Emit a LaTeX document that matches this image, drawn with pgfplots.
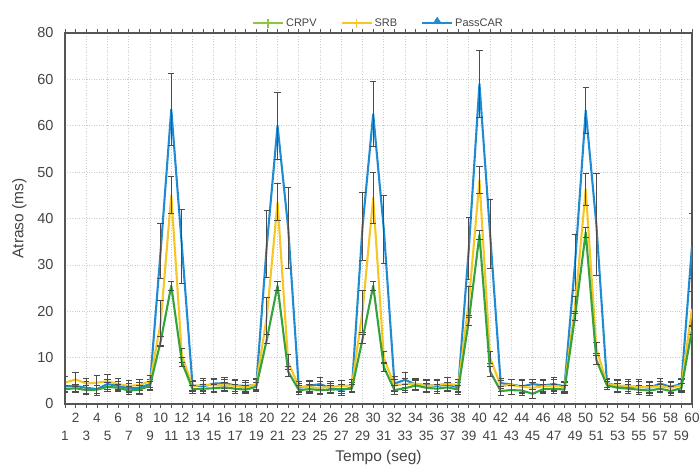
\documentclass[border=0pt]{standalone}
\usepackage{pgfplots}
\pgfplotsset{compat=1.18}
\usepackage{pgfplotstable}
\usepackage{fontspec}
\setmainfont{Liberation Sans}

\definecolor{cblue}{HTML}{1E8BD2}
\definecolor{cyellow}{HTML}{F6C623}
\definecolor{cgreen}{HTML}{35A33B}
\definecolor{clgreen}{HTML}{8CC63F}
\definecolor{ctext}{HTML}{444444}
\definecolor{cframe}{HTML}{555555}

% mean delay and error per second: PassCAR (b), SRB (s), CRPV (c)
\pgfplotstableread{
x  b    be   s    se   c    ce
1  3.8  1.0  4.6  1.3  3.2  0.8
2  3.9  1.2  5.3  1.5  3.4  0.9
3  3.5  1.3  4.4  1.2  3.0  1.0
4  3.2  1.4  4.6  1.5  3.1  0.9
5  4.3  1.1  4.9  1.4  3.7  1.0
6  3.9  1.0  4.3  1.2  3.5  0.8
7  3.4  1.0  3.9  1.1  2.9  0.9
8  3.5  1.2  4.1  1.2  3.1  1.0
9  4.3  1.1  4.9  1.3  3.9  0.9
10 33.0 6.0  17.5 4.8  13.5 1.0
11 63.5 7.7  45.0 4.0  25.5 1.0
12 34.0 8.0  10.5 1.5  9.0  1.0
13 4.0  1.0  3.8  1.1  3.2  0.9
14 3.8  1.2  4.2  1.3  3.3  1.0
15 4.4  1.1  4.0  1.2  3.4  0.9
16 4.5  1.2  4.1  1.1  3.6  1.0
17 4.0  1.3  3.9  1.2  3.3  1.0
18 3.9  1.1  3.6  1.1  3.1  0.9
19 4.1  1.2  4.3  1.2  3.7  1.0
20 34.5 7.2  19.0 4.0  14.0 1.0
21 60.0 7.2  43.5 4.0  25.5 1.0
22 38.0 8.7  9.0  1.6  7.0  1.0
23 3.5  1.0  3.8  1.1  3.0  0.9
24 3.9  1.2  3.6  1.2  3.2  1.0
25 4.3  1.4  3.5  1.3  3.0  1.0
26 3.4  1.1  3.7  1.2  3.1  0.9
27 3.0  1.2  3.9  1.1  3.2  1.0
28 3.5  1.1  4.0  1.2  3.3  0.9
29 38.3 7.3  20.0 4.5  14.0 1.0
30 62.5 7.0  44.5 5.5  25.5 1.0
31 37.7 7.3  10.0 1.3  8.0  1.0
32 4.4  1.5  4.0  1.2  3.0  1.0
33 5.2  1.6  4.3  1.3  3.4  0.9
34 4.2  1.2  4.4  1.2  4.0  1.0
35 4.1  1.3  3.9  1.2  3.5  1.0
36 3.9  1.1  4.1  1.3  3.3  1.0
37 4.2  1.5  4.4  1.4  3.6  1.0
38 3.6  1.1  4.0  1.3  3.1  1.0
39 33.5 6.7  22.0 3.4  18.0 1.0
40 69.0 7.3  48.3 3.0  36.5 1.0
41 36.7 7.5  10.0 1.3  7.0  1.0
42 4.5  1.1  3.9  1.2  2.8  0.9
43 4.2  1.2  4.1  1.2  3.0  1.0
44 3.8  1.5  3.7  1.3  2.9  1.0
45 4.3  1.1  3.5  1.2  2.2  0.9
46 4.0  1.3  3.8  1.3  3.2  1.0
47 4.3  1.4  4.0  1.2  3.3  1.0
48 3.8  1.1  3.6  1.1  3.1  0.9
49 30.5 6.0  21.3 1.8  19.0 1.0
50 63.3 4.9  46.3 3.4  37.0 1.0
51 38.7 11.0 12.0 1.2  9.5  1.0
52 4.5  1.0  4.3  1.1  4.0  0.9
53 3.9  1.2  4.0  1.2  3.5  1.0
54 3.6  1.3  3.9  1.3  3.3  1.0
55 3.8  1.4  3.6  1.2  3.1  1.0
56 3.5  1.2  3.7  1.2  2.9  1.0
57 4.4  1.1  3.8  1.1  3.3  0.9
58 3.7  1.2  3.5  1.2  2.8  1.0
59 4.3  1.3  4.0  1.3  3.4  1.0
60 34.0 7.0  20.5 3.7  16.0 1.0
}\delaydata

\pgfplotsset{
  errstyle/.style={
    error bars/.cd,
      y dir=both, y explicit,
      error bar style={line width=0.9pt, draw=black!70},
      error mark options={rotate=90, mark size=3.2pt, line width=0.9pt, draw=black!70},
  },
}
% odd seconds on the lower row, even seconds on the upper row
\newcommand{\lo}[1]{\strut\\#1}
\newcommand{\hi}[1]{#1\\\strut}

\begin{document}
\begin{tikzpicture}
\begin{axis}[
  scale only axis,
  width=627pt, height=371pt,
  xmin=1, xmax=60,
  ymin=0, ymax=80,
  xtick={1,...,60},
  xticklabels={
    \lo{1},\hi{2},\lo{3},\hi{4},\lo{5},\hi{6},\lo{7},\hi{8},\lo{9},\hi{10},
    \lo{11},\hi{12},\lo{13},\hi{14},\lo{15},\hi{16},\lo{17},\hi{18},\lo{19},\hi{20},
    \lo{21},\hi{22},\lo{23},\hi{24},\lo{25},\hi{26},\lo{27},\hi{28},\lo{29},\hi{30},
    \lo{31},\hi{32},\lo{33},\hi{34},\lo{35},\hi{36},\lo{37},\hi{38},\lo{39},\hi{40},
    \lo{41},\hi{42},\lo{43},\hi{44},\lo{45},\hi{46},\lo{47},\hi{48},\lo{49},\hi{50},
    \lo{51},\hi{52},\lo{53},\hi{54},\lo{55},\hi{56},\lo{57},\hi{58},\lo{59},\hi{60}},
  ytick={0,10,...,80},
  yticklabels={0,10,20,30,40,50,60,60,80},
  minor xtick={3,5,...,59},
  xminorgrids=true,
  ymajorgrids=true,
  xmajorgrids=false,
  grid style={dotted, line width=0.7pt, gray!40},
  minor grid style={dotted, line width=0.7pt, gray!40},
  minor tick length=0pt,
  tick align=outside,
  major tick length=4pt,
  ytick style={draw=none},
  xtick style={line width=0.7pt, draw=cframe},
  axis line style={line width=1.5pt, draw=cframe},
  /pgf/number format/assume math mode=true,
  xticklabel style={align=center, font=\fontsize{13.5}{16}\selectfont, text=ctext,
    inner sep=1pt, yshift=-4pt},
  yticklabel style={font=\fontsize{14.5}{16}\selectfont, text=ctext, xshift=-4pt},
  xlabel={Tempo (seg)},
  ylabel={Atraso (ms)},
  xlabel style={font=\fontsize{15.5}{17}\selectfont, text=ctext, yshift=-2pt},
  ylabel style={font=\fontsize{15.5}{17}\selectfont, text=ctext, yshift=4pt},
  legend style={draw=none, fill=none, at={(0.5,1.0)}, anchor=south, yshift=2pt,
    font=\fontsize{11}{12}\selectfont, text=ctext, inner sep=1pt,
    /tikz/every even column/.append style={column sep=22pt}},
  legend columns=3,
]
\addlegendimage{legend image code/.code={
    \draw[draw=clgreen, line width=2pt] (0pt,0pt) -- (30pt,0pt);
    \draw[draw=clgreen, line width=1.4pt] (15pt,-4.5pt) -- (15pt,4.5pt);}}
\addlegendentry{CRPV}
\addlegendimage{legend image code/.code={
    \draw[draw=cyellow, line width=2pt] (0pt,0pt) -- (30pt,0pt);
    \draw[draw=cyellow, line width=1.4pt] (15pt,-4.5pt) -- (15pt,4.5pt);}}
\addlegendentry{SRB}
\addlegendimage{legend image code/.code={
    \draw[draw=cblue, line width=2pt] (0pt,0pt) -- (30pt,0pt);
    \fill[cblue] (11pt,0pt) -- (15pt,6pt) -- (19pt,0pt) -- cycle;}}
\addlegendentry{PassCAR}

\addplot[forget plot, cblue, line width=2.1pt, line join=round, errstyle]
  table[x=x, y=b, y error=be]{\delaydata};
\addplot[forget plot, cyellow, line width=2.1pt, line join=round, errstyle]
  table[x=x, y=s, y error=se]{\delaydata};
\addplot[forget plot, cgreen, line width=2.1pt, line join=round, errstyle]
  table[x=x, y=c, y error=ce]{\delaydata};
\end{axis}
\pgfresetboundingbox
\path[use as bounding box]
  ([xshift=-65pt, yshift=-64pt]current axis.south west)
  rectangle ([xshift=8pt, yshift=33pt]current axis.north east);
\end{tikzpicture}
\end{document}
